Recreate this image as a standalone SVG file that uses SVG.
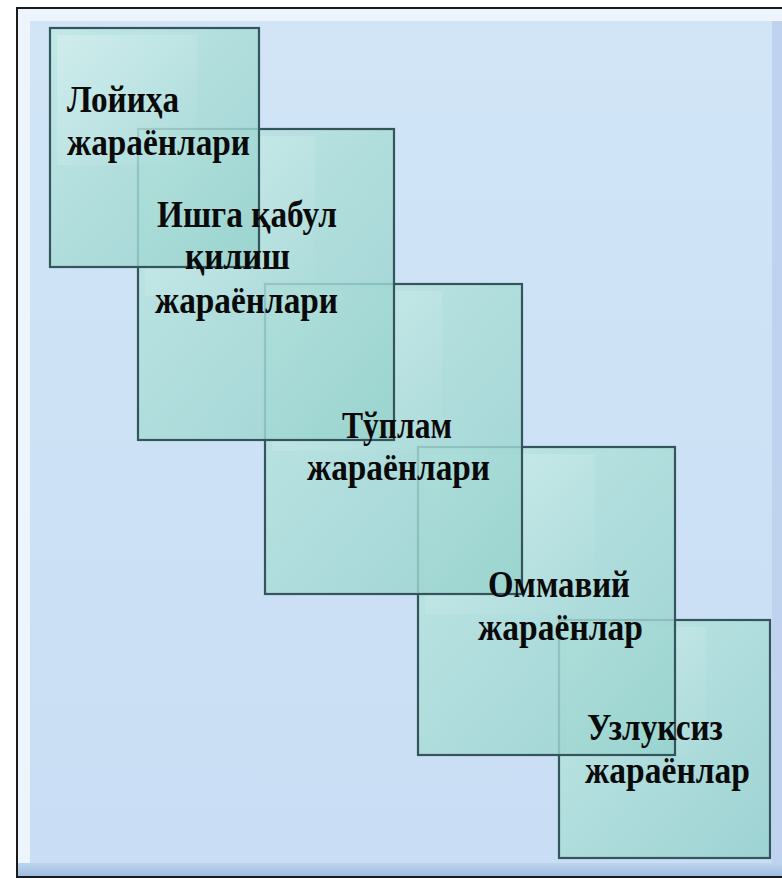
<svg xmlns="http://www.w3.org/2000/svg" width="782" height="879" viewBox="0 0 782 879">
<defs>
<linearGradient id="bg" x1="0" y1="0" x2="0" y2="1">
<stop offset="0" stop-color="#d1e5f7"/>
<stop offset="1" stop-color="#c9def4"/>
</linearGradient>
<linearGradient id="sq" x1="0" y1="0" x2="1" y2="1">
<stop offset="0" stop-color="#bfe8e4"/>
<stop offset="0.5" stop-color="#a9dcd7"/>
<stop offset="1" stop-color="#94d1cc"/>
</linearGradient>
<linearGradient id="shine" x1="0" y1="0" x2="1" y2="1">
<stop offset="0" stop-color="#ffffff" stop-opacity="0.22"/>
<stop offset="1" stop-color="#ffffff" stop-opacity="0"/>
</linearGradient>
<linearGradient id="bottomBand" x1="0" y1="0" x2="0" y2="1">
<stop offset="0" stop-color="#bcd4ee"/>
<stop offset="1" stop-color="#9fbde2"/>
</linearGradient>
</defs>
<style>
.box{fill:url(#sq);fill-opacity:0.82;stroke:#34555b;stroke-width:2.2}
.shine{fill:url(#shine);stroke:none}
.lbl{font-family:"Liberation Serif","Times New Roman",serif;font-weight:bold;font-size:37px;fill:#0a0a0a}
</style>
<rect x="0" y="0" width="782" height="879" fill="#ffffff"/>
<rect x="17" y="8" width="770" height="869" fill="#eef4fb" stroke="#1a1a1a" stroke-width="2"/>
<rect x="30" y="21" width="742" height="842" fill="url(#bg)"/>
<rect x="772" y="21" width="10" height="842" fill="#bfd3ee"/>
<rect x="18" y="863" width="764" height="13" fill="url(#bottomBand)"/>
<g id="connectors"/>
<g id="node5">
<rect class="box" x="559" y="620" width="211" height="238"/>
<rect class="shine" x="566" y="627" width="140" height="130"/>
</g>
<g id="node4">
<rect class="box" x="418" y="447" width="257" height="308"/>
<rect class="shine" x="425" y="454" width="170" height="160"/>
</g>
<g id="node3">
<rect class="box" x="265" y="284" width="257" height="310"/>
<rect class="shine" x="272" y="291" width="170" height="160"/>
</g>
<g id="node2">
<rect class="box" x="138" y="129" width="256" height="311"/>
<rect class="shine" x="145" y="136" width="170" height="160"/>
</g>
<g id="node1">
<rect class="box" x="50" y="28" width="209" height="239"/>
<rect class="shine" x="57" y="35" width="140" height="130"/>
</g>
<g id="labels">
<text class="lbl" x="67" y="112" textLength="112" lengthAdjust="spacingAndGlyphs">Лойиҳа</text>
<text class="lbl" x="67" y="155" textLength="183" lengthAdjust="spacingAndGlyphs">жараёнлари</text>
<text class="lbl" x="157" y="227" textLength="180" lengthAdjust="spacingAndGlyphs">Ишга қабул</text>
<text class="lbl" x="185" y="269" textLength="105" lengthAdjust="spacingAndGlyphs">қилиш</text>
<text class="lbl" x="155" y="313" textLength="183" lengthAdjust="spacingAndGlyphs">жараёнлари</text>
<text class="lbl" x="342" y="438" textLength="110" lengthAdjust="spacingAndGlyphs">Тўплам</text>
<text class="lbl" x="307" y="480" textLength="183" lengthAdjust="spacingAndGlyphs">жараёнлари</text>
<text class="lbl" x="488" y="597" textLength="142" lengthAdjust="spacingAndGlyphs">Оммавий</text>
<text class="lbl" x="478" y="640" textLength="165" lengthAdjust="spacingAndGlyphs">жараёнлар</text>
<text class="lbl" x="587" y="740" textLength="136" lengthAdjust="spacingAndGlyphs">Узлуксиз</text>
<text class="lbl" x="585" y="783" textLength="165" lengthAdjust="spacingAndGlyphs">жараёнлар</text>
</g>
</svg>
